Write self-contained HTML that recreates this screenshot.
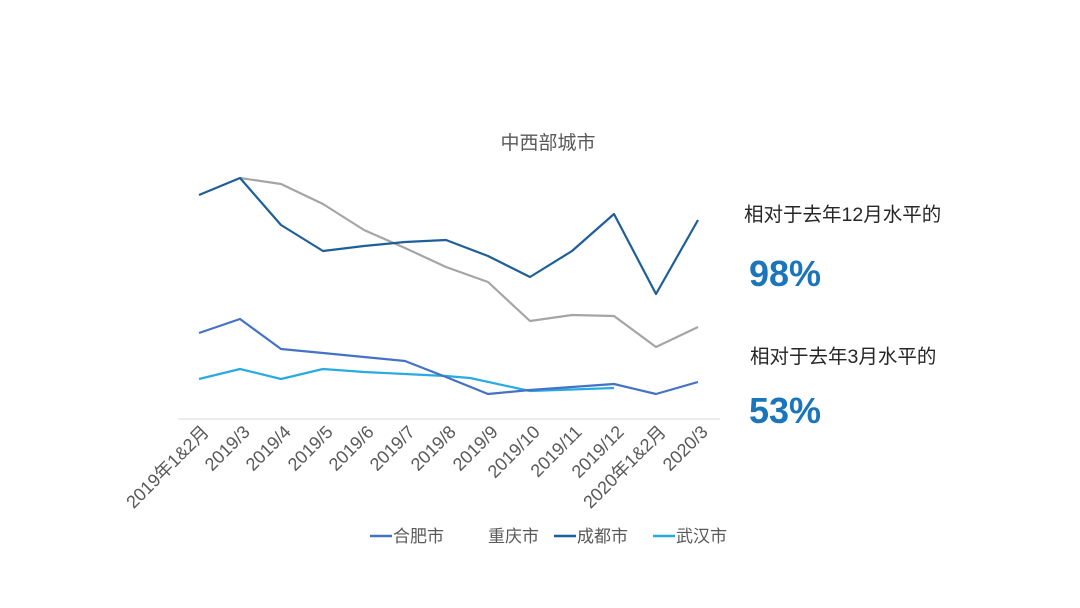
<!DOCTYPE html>
<html><head><meta charset="utf-8"><style>
html,body{margin:0;padding:0;background:#fff;}
svg{display:block;font-family:"Liberation Sans","Noto Sans CJK SC",sans-serif;}
</style></head><body>
<svg width="1080" height="608" viewBox="0 0 1080 608">
<text x="548" y="149" font-size="19" fill="#595959" text-anchor="middle">中西部城市</text>
<line x1="178" y1="419" x2="720" y2="419" stroke="#d9d9d9" stroke-width="1"/>
<g fill="none" stroke-width="2.2" stroke-linejoin="round">
<polyline stroke="#a5a5a5" points="240,178 281,184 323,204 364,230 405,248 446,267 488,282 530,321 572,315 614,316 656,347 698,327"/>
<polyline stroke="#1f5f99" points="199,195 240,178 281,225 323,251 364,246 405,242 446,240 488,256 530,277 572,251 614,214 656,294 698,220"/>
<polyline stroke="#29abe2" points="199,379 240,369 281,379 323,369 364,372 405,374 446,376 470,378 530,391 614,388"/>
<polyline stroke="#4472c4" points="199,333 240,319 281,349 323,353 364,357 405,361 446,377 488,394 530,390 572,387 614,384 656,394 698,382"/>
</g>
<g font-size="18" fill="#595959" text-anchor="end">
<text transform="translate(210,433) rotate(-45)">2019年1&amp;2月</text>
<text transform="translate(251,433) rotate(-45)">2019/3</text>
<text transform="translate(292,433) rotate(-45)">2019/4</text>
<text transform="translate(334,433) rotate(-45)">2019/5</text>
<text transform="translate(375,433) rotate(-45)">2019/6</text>
<text transform="translate(416,433) rotate(-45)">2019/7</text>
<text transform="translate(457,433) rotate(-45)">2019/8</text>
<text transform="translate(499,433) rotate(-45)">2019/9</text>
<text transform="translate(541,433) rotate(-45)">2019/10</text>
<text transform="translate(583,433) rotate(-45)">2019/11</text>
<text transform="translate(625,433) rotate(-45)">2019/12</text>
<text transform="translate(667,433) rotate(-45)">2020年1&amp;2月</text>
<text transform="translate(709,433) rotate(-45)">2020/3</text>
</g>
<g font-size="17" fill="#595959">
<line x1="370" y1="536" x2="392" y2="536" stroke="#4472c4" stroke-width="2.5"/>
<text x="393" y="542">合肥市</text>
<text x="488" y="542">重庆市</text>
<line x1="554" y1="536" x2="576" y2="536" stroke="#1f5f99" stroke-width="2.5"/>
<text x="577" y="542">成都市</text>
<line x1="653" y1="536" x2="675" y2="536" stroke="#29abe2" stroke-width="2.5"/>
<text x="676" y="542">武汉市</text>
</g>
<text x="744" y="221" font-size="19.5" fill="#262626">相对于去年12月水平的</text>
<text x="749" y="286" font-size="36" font-weight="bold" fill="#1a75bb">98%</text>
<text x="750" y="363" font-size="19.5" fill="#262626">相对于去年3月水平的</text>
<text x="749" y="423" font-size="36" font-weight="bold" fill="#1a75bb">53%</text>
</svg>
</body></html>
